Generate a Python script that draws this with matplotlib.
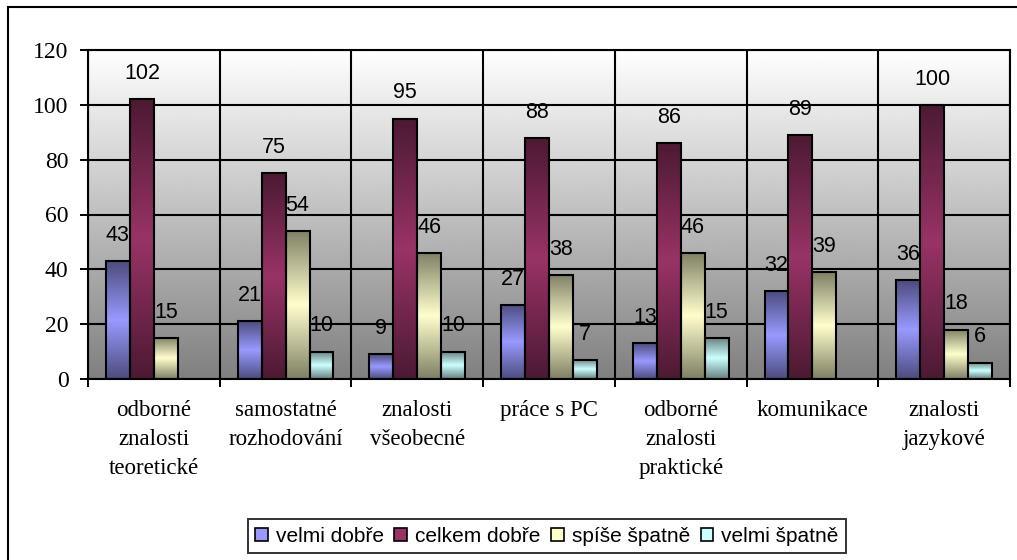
import numpy as np
import matplotlib
matplotlib.use("Agg")
import matplotlib.pyplot as plt
from matplotlib.colors import to_rgb
from matplotlib.patches import Patch, Rectangle

# ---------- data ----------
categories = [
    "odborné\nznalosti\nteoretické",
    "samostatné\nrozhodování",
    "znalosti\nvšeobecné",
    "práce s PC",
    "odborné\nznalosti\npraktické",
    "komunikace",
    "znalosti\njazykové",
]
series_names = ["velmi dobře", "celkem dobře", "spíše špatně", "velmi špatně"]
velmi_dobre = [43, 21, 9, 27, 13, 32, 36]
celkem_dobre = [102, 75, 95, 88, 86, 89, 100]
spise_spatne = [15, 54, 46, 38, 46, 39, 18]
velmi_spatne = [np.nan, 10, 10, 7, 15, np.nan, 6]
y_ticks = [0, 20, 40, 60, 80, 100, 120]

colors = ["#9999FF", "#993366", "#FFFFCC", "#CCFFFF"]

# ---------- figure ----------
W, H = 1017, 560
fig = plt.figure(figsize=(W / 100, H / 100), dpi=100)
fig.patch.set_facecolor("white")

# outer chart frame (only left/top visible in the reference)
fig.add_artist(Rectangle((8 / W, -0.5), 2, 1.5 - 7 / H, transform=fig.transFigure,
                         fill=False, edgecolor="black", linewidth=1.5))

ax = fig.add_axes([88 / W, 1 - 379 / H, (1010 - 88) / W, (379 - 50) / H])

# plot area gradient: white top -> gray bottom
grad = np.linspace(0.5, 1.0, 256).reshape(-1, 1)
ax.imshow(grad, extent=[0, 1, 0, 1], transform=ax.transAxes, origin="lower",
          cmap="gray", vmin=0, vmax=1, aspect="auto", zorder=0)

n = len(categories)
x = np.arange(n)
w = 1 / 5.5
all_series = [velmi_dobre, celkem_dobre, spise_spatne, velmi_spatne]

t = np.linspace(0, 1, 128)
prof = (1 - np.abs(2 * t - 1))  # dark at ends, light in middle

for j, (vals, col) in enumerate(zip(all_series, colors)):
    base = np.array(to_rgb(col))
    dark = base * 0.5
    img = dark[None, :] + (base - dark)[None, :] * prof[:, None]
    img = img.reshape(-1, 1, 3)
    vals = np.array(vals, dtype=float)
    bars = ax.bar(x + (j - 1.5) * w, np.nan_to_num(vals), width=w,
                  facecolor="none", edgecolor="black", linewidth=1.5, zorder=3)
    for b, v in zip(bars, vals):
        if np.isnan(v) or v == 0:
            b.set_visible(False)
            continue
        ax.imshow(img, extent=[b.get_x(), b.get_x() + b.get_width(), 0, b.get_height()],
                  origin="lower", aspect="auto", zorder=2, interpolation="bilinear")
        ax.annotate(f"{v:.0f}", (b.get_x() + b.get_width() / 2, b.get_height()),
                    xytext=(0, 18.5), textcoords="offset points",
                    ha="center", va="center", fontsize=15.5,
                    family="Liberation Sans", zorder=4)

ax.set_xlim(-0.5, n - 0.5)
ax.set_ylim(0, 120)
ax.set_aspect("auto")

# grid
ax.set_yticks(y_ticks)
ax.set_xticks(np.arange(n + 1) - 0.5)
ax.set_xticklabels([])
ax.set_xticks(x, minor=True)
ax.set_xticklabels(categories, minor=True, family="Liberation Serif",
                   fontsize=16.5, linespacing=1.5)
ax.tick_params(axis="x", which="minor", length=0, pad=15)
ax.tick_params(axis="x", which="major", length=6, width=1.4, direction="out")
ax.tick_params(axis="y", length=6, width=1.4, direction="out", pad=8)
ax.grid(True, which="major", color="black", linewidth=1.5, zorder=1)
ax.set_axisbelow(True)
for lbl in ax.get_yticklabels():
    lbl.set_family("Liberation Serif")
    lbl.set_fontsize(17)
for s in ax.spines.values():
    s.set_color("black")
    s.set_linewidth(1.5)

# legend
handles = [Patch(facecolor=c, edgecolor="black", linewidth=1.2) for c in colors]
leg = fig.legend(handles, series_names, loc="center", ncol=4,
                 bbox_to_anchor=(547 / W, 1 - 536 / H),
                 prop={"family": "Liberation Sans", "size": 15},
                 frameon=True, fancybox=False, handlelength=0.6, handleheight=0.6,
                 handletextpad=0.4, columnspacing=0.5, borderpad=0.35,
                 borderaxespad=0)
leg.get_frame().set_edgecolor("black")
leg.get_frame().set_linewidth(1.4)

fig.savefig("out.png", dpi=100)
